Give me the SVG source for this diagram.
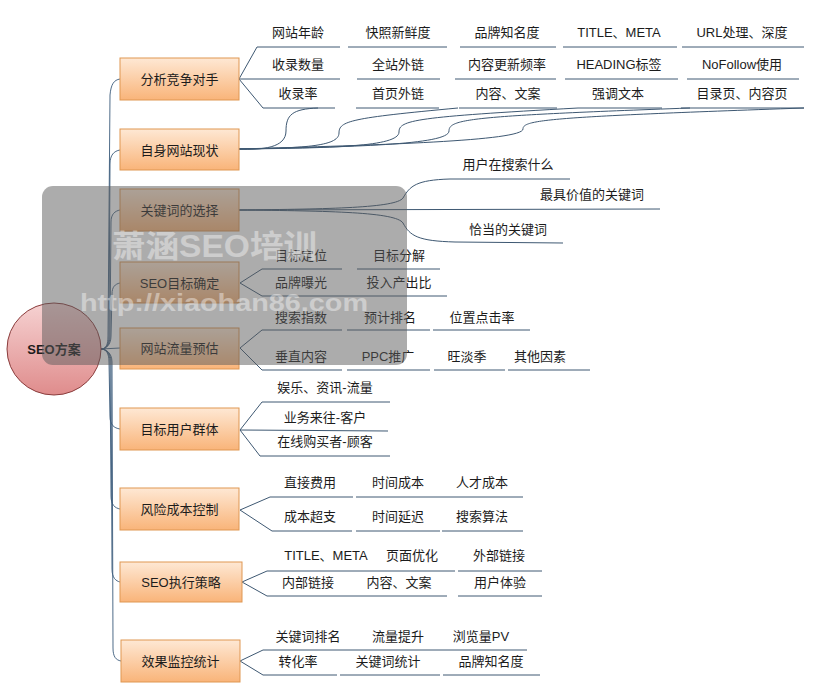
<svg xmlns="http://www.w3.org/2000/svg" width="814" height="685" viewBox="0 0 814 685">
<style>
  .bg{fill:#ffffff}
  .box{fill:url(#gBox);stroke:#df9752;stroke-width:1}
  .lbl{font-family:"Liberation Sans","Noto Sans CJK SC",sans-serif;font-size:13px;fill:#1c1c1c;text-anchor:middle}
  .rootlbl{font-family:"Liberation Sans","Noto Sans CJK SC",sans-serif;font-size:13px;font-weight:bold;fill:#1c1c1c;text-anchor:middle}
  .conn{fill:none;stroke:#3a5a7a;stroke-width:0.9}
  .ln{fill:none;stroke:#3e5872;stroke-width:1}
  .wm{font-family:"Liberation Sans","Noto Sans CJK SC",sans-serif;fill:#ffffff;opacity:0.4;font-weight:bold}
</style>
<defs>
  <linearGradient id="gBox" x1="0" y1="0" x2="0" y2="1">
    <stop offset="0" stop-color="#fee8d4"/>
    <stop offset="1" stop-color="#f9b479"/>
  </linearGradient>
  <linearGradient id="gRoot" x1="0" y1="0" x2="0" y2="1">
    <stop offset="0" stop-color="#f6d2d2"/>
    <stop offset="1" stop-color="#df8c8c"/>
  </linearGradient>
</defs>
<rect class="bg" x="0" y="0" width="814" height="685"/>

<g id="connectors">
  <!-- root to main boxes -->
  <path class="conn" d="M101,349 C106,349 108,345 108,336 L110,95 C111,84 114,80 120,79"/>
  <path class="conn" d="M101,349 C106,349 109,345 109,336 L110,164 C110,155 114,151 120,150"/>
  <path class="conn" d="M101,349 C106,349 110,345 110,336 L111,222 C111,214 115,211 120,210"/>
  <path class="conn" d="M101,349 C106,349 111,345 111,336 L112,294 C112,287 115,284 120,283"/>
  <path class="conn" d="M101,349 L120,348"/>
  <path class="conn" d="M101,349 C106,349 109,353 109,362 L110,416 C110,425 114,428 120,429"/>
  <path class="conn" d="M101,349 C106,349 110,353 110,362 L111,496 C111,505 115,508 120,509"/>
  <path class="conn" d="M101,349 C106,349 111,353 111,362 L112,569 C112,578 116,581 120,582"/>
  <path class="conn" d="M101,349 C106,349 112,353 112,362 L113,648 C113,657 116,660 121,661"/>

  <!-- 分析竞争对手 -->
  <path class="ln" d="M239,79 L257,47 L340,47 M348,47 L447,47 M460,47 L556,47 M563,47 L677,47 M682,47 L804,47"/>
  <path class="ln" d="M239,79 L340,79 M357,79 L440,79 M455,79 L556,79 M565,79 L678,79 M687,79 L799,79"/>
  <path class="ln" d="M239,79 L263,108 L335,108 M356,108 L439,108 M459,108 L557,108 M578,108 L662,108 M681,108 L804,108"/>

  <!-- 自身网站现状 -->
  <path class="ln" d="M239,149 C262,150 286,148 286,131 C286,115 292,109 318,108"/>
  <path class="ln" d="M239,149 C300,148 339,147 339,133 C339,121 350,118 458,108"/>
  <path class="ln" d="M239,149 C330,148 399,147 399,132 C399,120 415,117 578,108"/>
  <path class="ln" d="M239,149 C350,147 449,145 449,131 C449,119 470,116 690,108"/>
  <path class="ln" d="M239,149 C380,145 523,141 523,129 C523,120 545,117 804,108"/>

  <!-- 关键词的选择 -->
  <path class="ln" d="M239,210 C330,209 396,208 403,198 C410,186 416,180 450,179 L570,179"/>
  <path class="ln" d="M239,210 L660,209"/>
  <path class="ln" d="M239,210 C330,211 396,212 403,223 C410,236 418,241 455,242 L563,243"/>

  <!-- SEO目标确定 -->
  <path class="ln" d="M240,283 L262,269 L342,269 M357,269 L440,269"/>
  <path class="ln" d="M240,283 L262,296 L447,296"/>

  <!-- 网站流量预估 -->
  <path class="ln" d="M240,348 L262,330 L342,330 M347,330 L430,330 M433,330 L530,330"/>
  <path class="ln" d="M240,348 L262,370 L342,370 M347,370 L430,370 M434,370 L505,370 M508,370 L590,370"/>

  <!-- 目标用户群体 -->
  <path class="ln" d="M240,430 L262,402 L390,402"/>
  <path class="ln" d="M240,430 L388,431"/>
  <path class="ln" d="M240,430 L260,456 L390,456"/>

  <!-- 风险成本控制 -->
  <path class="ln" d="M240,510 L270,497 L353,497 M356,497 L523,497"/>
  <path class="ln" d="M240,510 L272,531 L352,531 M356,531 L440,531 M442,531 L523,531"/>

  <!-- SEO执行策略 -->
  <path class="ln" d="M242,582 L267,571 L455,571 M458,571 L542,571"/>
  <path class="ln" d="M242,582 L267,596 L447,596 M458,596 L542,596"/>

  <!-- 效果监控统计 -->
  <path class="ln" d="M240,661 L263,650 L527,650"/>
  <path class="ln" d="M240,661 L263,675 L337,675 M340,675 L440,675 M443,675 L540,675"/>
</g>

<g id="root">
  <ellipse cx="54" cy="349" rx="47" ry="46" fill="url(#gRoot)" stroke="#8a3c3c" stroke-width="1"/>
  <text class="rootlbl" x="54" y="354">SEO方案</text>
</g>

<g id="n1">
  <rect class="box" x="120" y="58" width="119" height="42"/>
  <text class="lbl" x="179.5" y="84">分析竞争对手</text>
  <text class="lbl" x="298" y="37">网站年龄</text>
  <text class="lbl" x="398" y="37">快照新鲜度</text>
  <text class="lbl" x="507" y="37">品牌知名度</text>
  <text class="lbl" x="619" y="37">TITLE、META</text>
  <text class="lbl" x="742" y="37">URL处理、深度</text>
  <text class="lbl" x="298" y="69">收录数量</text>
  <text class="lbl" x="398" y="69">全站外链</text>
  <text class="lbl" x="507" y="69">内容更新频率</text>
  <text class="lbl" x="619" y="69">HEADING标签</text>
  <text class="lbl" x="742" y="69">NoFollow使用</text>
  <text class="lbl" x="298" y="98">收录率</text>
  <text class="lbl" x="398" y="98">首页外链</text>
  <text class="lbl" x="508" y="98">内容、文案</text>
  <text class="lbl" x="618" y="98">强调文本</text>
  <text class="lbl" x="742" y="98">目录页、内容页</text>
</g>

<g id="n2">
  <rect class="box" x="120" y="129" width="119" height="41"/>
  <text class="lbl" x="179.5" y="155">自身网站现状</text>
</g>

<g id="n3">
  <rect class="box" x="120" y="189" width="119" height="42"/>
  <text class="lbl" x="179.5" y="215">关键词的选择</text>
  <text class="lbl" x="508" y="169">用户在搜索什么</text>
  <text class="lbl" x="592" y="199">最具价值的关键词</text>
  <text class="lbl" x="508" y="234">恰当的关键词</text>
</g>

<g id="n4">
  <rect class="box" x="120" y="262" width="119" height="41"/>
  <text class="lbl" x="179.5" y="288">SEO目标确定</text>
  <text class="lbl" x="301" y="260">目标定位</text>
  <text class="lbl" x="399" y="260">目标分解</text>
  <text class="lbl" x="301" y="287">品牌曝光</text>
  <text class="lbl" x="399" y="287">投入产出比</text>
</g>

<g id="n5">
  <rect class="box" x="120" y="328" width="119" height="41"/>
  <text class="lbl" x="179.5" y="353">网站流量预估</text>
  <text class="lbl" x="301" y="322">搜索指数</text>
  <text class="lbl" x="390" y="322">预计排名</text>
  <text class="lbl" x="482" y="322">位置点击率</text>
  <text class="lbl" x="301" y="361">垂直内容</text>
  <text class="lbl" x="388" y="361">PPC推广</text>
  <text class="lbl" x="467" y="361">旺淡季</text>
  <text class="lbl" x="540" y="361">其他因素</text>
</g>

<g id="n6">
  <rect class="box" x="120" y="408" width="119" height="42"/>
  <text class="lbl" x="179.5" y="434">目标用户群体</text>
  <text class="lbl" x="325" y="392">娱乐、资讯-流量</text>
  <text class="lbl" x="325" y="422">业务来往-客户</text>
  <text class="lbl" x="325" y="446">在线购买者-顾客</text>
</g>

<g id="n7">
  <rect class="box" x="120" y="488" width="119" height="42"/>
  <text class="lbl" x="179.5" y="514">风险成本控制</text>
  <text class="lbl" x="310" y="487">直接费用</text>
  <text class="lbl" x="398" y="487">时间成本</text>
  <text class="lbl" x="482" y="487">人才成本</text>
  <text class="lbl" x="310" y="521">成本超支</text>
  <text class="lbl" x="398" y="521">时间延迟</text>
  <text class="lbl" x="482" y="521">搜索算法</text>
</g>

<g id="n8">
  <rect class="box" x="120" y="562" width="122" height="40"/>
  <text class="lbl" x="181" y="587">SEO执行策略</text>
  <text class="lbl" x="326" y="560">TITLE、META</text>
  <text class="lbl" x="412" y="560">页面优化</text>
  <text class="lbl" x="499" y="560">外部链接</text>
  <text class="lbl" x="308" y="587">内部链接</text>
  <text class="lbl" x="399" y="587">内容、文案</text>
  <text class="lbl" x="500" y="587">用户体验</text>
</g>

<g id="n9">
  <rect class="box" x="121" y="640" width="119" height="42"/>
  <text class="lbl" x="180.5" y="666">效果监控统计</text>
  <text class="lbl" x="308" y="641">关键词排名</text>
  <text class="lbl" x="398" y="641">流量提升</text>
  <text class="lbl" x="481" y="641">浏览量PV</text>
  <text class="lbl" x="298" y="666">转化率</text>
  <text class="lbl" x="388" y="666">关键词统计</text>
  <text class="lbl" x="491" y="666">品牌知名度</text>
</g>

<g id="watermark">
  <rect x="42" y="186" width="365" height="179" rx="11" fill="#595959" opacity="0.5"/>
  <text class="wm" x="112" y="257" font-size="31" textLength="205" lengthAdjust="spacingAndGlyphs">萧涵SEO培训</text>
  <text class="wm" x="80" y="311" font-size="24" font-weight="normal" textLength="288" lengthAdjust="spacingAndGlyphs">http://xiaohan86.com</text>
</g>
</svg>
